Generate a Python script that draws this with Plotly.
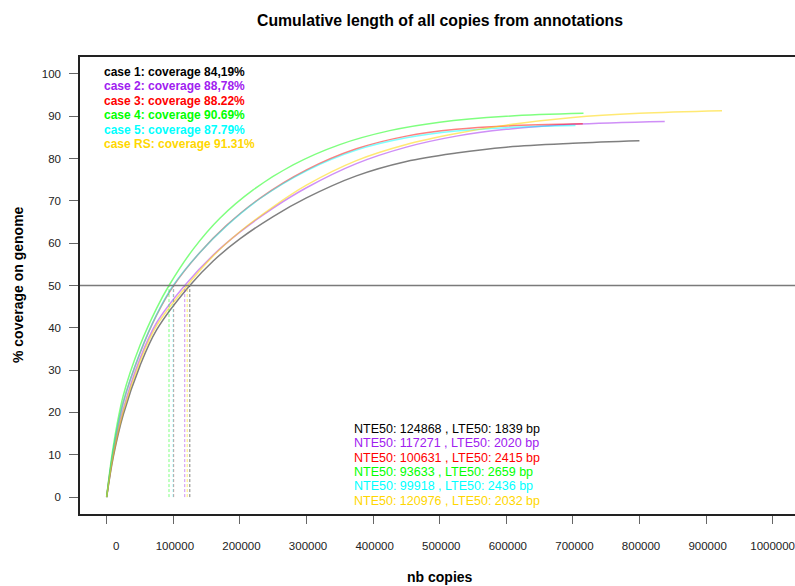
import plotly.graph_objects as go

# ---------------- data ----------------
case_names = ["case 1", "case 2", "case 3", "case 4", "case 5", "case RS"]
coverage_labels = ["84,19%", "88,78%", "88.22%", "90.69%", "87.79%", "91.31%"]
nte50 = [124868, 117271, 100631, 93633, 99918, 120976]
lte50 = [1839, 2020, 2415, 2659, 2436, 2032]
threshold = 50

case1_x = [0, 10000, 25000, 50000, 75000, 124868, 160000, 200000, 250000, 300000, 375000, 450000, 525000, 600000, 700000, 800000]
case1_y = [0, 9.5, 19.5, 31.0, 39.5, 50.0, 55.8, 61.0, 66.3, 70.7, 75.9, 79.3, 81.3, 82.7, 83.6, 84.19]

case2_x = [0, 10000, 25000, 50000, 75000, 117271, 160000, 200000, 250000, 300000, 375000, 450000, 525000, 600000, 700000, 838000]
case2_y = [0, 10.2, 20.8, 32.7, 41.2, 50.0, 57.2, 62.6, 68.3, 73.1, 78.8, 82.7, 85.3, 86.9, 88.1, 88.78]

case3_x = [0, 10000, 25000, 50000, 75000, 100631, 140000, 180000, 230000, 300000, 375000, 450000, 525000, 600000, 715000]
case3_y = [0, 11.0, 22.4, 34.0, 43.0, 50.0, 57.8, 64.2, 70.6, 77.3, 82.3, 85.3, 86.9, 87.7, 88.22]

case4_x = [0, 10000, 25000, 50000, 75000, 93633, 130000, 170000, 220000, 280000, 350000, 425000, 500000, 600000, 716000]
case4_y = [0, 12.0, 24.0, 35.8, 44.6, 50.0, 58.6, 65.9, 72.6, 78.5, 83.3, 86.6, 88.6, 90.0, 90.69]

case5_x = [0, 10000, 25000, 50000, 75000, 99918, 140000, 180000, 230000, 300000, 375000, 450000, 525000, 600000, 704000]
case5_y = [0, 11.0, 22.4, 34.1, 43.1, 50.0, 57.8, 64.1, 70.5, 77.1, 82.0, 84.9, 86.5, 87.3, 87.79]

caseRS_x = [0, 10000, 25000, 50000, 75000, 120976, 160000, 200000, 250000, 300000, 375000, 450000, 525000, 600000, 700000, 800000, 924000]
caseRS_y = [0, 9.9, 20.3, 32.0, 40.5, 50.0, 57.0, 62.7, 68.6, 73.7, 79.5, 83.3, 85.9, 87.9, 89.7, 90.7, 91.31]

x_ticks = [0, 100000, 200000, 300000, 400000, 500000, 600000, 700000, 800000, 900000, 1000000]
y_ticks = [0, 10, 20, 30, 40, 50, 60, 70, 80, 90, 100]

# ---------------- styling ----------------
series_x = [case1_x, case2_x, case3_x, case4_x, case5_x, caseRS_x]
series_y = [case1_y, case2_y, case3_y, case4_y, case5_y, caseRS_y]
solid = ["#000000", "#A020F0", "#FF0000", "#00FF00", "#00FFFF", "#FFD700"]
faded = ["rgba(0,0,0,0.5)", "rgba(160,32,240,0.5)", "rgba(255,0,0,0.5)",
         "rgba(0,255,0,0.5)", "rgba(0,255,255,0.5)", "rgba(255,215,0,0.55)"]

OFF = 0  # body margin removed by post_script
W, H = 795, 586
ML, MR, MT, MB = 80, 0, 57, 72
PW, PH = W - ML - MR, H - MT - MB


def px2paper_x(px):
    return (px - OFF - ML) / PW


def px2paper_y(py):
    return (H - MB - (py - OFF)) / PH


fig = go.Figure()

for xs, ys, col in zip(series_x, series_y, faded):
    fig.add_trace(go.Scatter(x=xs, y=ys, mode="lines",
                             line=dict(color=col, width=1.5, shape="spline", smoothing=1.0),
                             hoverinfo="skip", showlegend=False))

for n, col in zip(nte50, faded):
    fig.add_trace(go.Scatter(x=[n, n], y=[0, threshold], mode="lines",
                             line=dict(color=col, width=1, dash="3px,2px"),
                             hoverinfo="skip", showlegend=False))

fig.add_shape(type="line", xref="paper", x0=0, x1=1, yref="y", y0=threshold, y1=threshold,
              line=dict(color="#7a7a7a", width=1.5), layer="above")

annotations = []
leg_y = [71.7, 86.2, 100.7, 115.2, 129.7, 144.2]
for name, cov, col, py in zip(case_names, coverage_labels, solid, leg_y):
    annotations.append(dict(text=f"<b>{name}: coverage {cov}</b>", x=px2paper_x(102), y=px2paper_y(py),
                            xref="paper", yref="paper", xanchor="left", yanchor="middle",
                            showarrow=False, font=dict(family="Arial", size=12, color=col)))
bot_y = [429.0, 443.3, 457.6, 471.9, 486.2, 500.5]
for n, l, col, py in zip(nte50, lte50, solid, bot_y):
    annotations.append(dict(text=f"NTE50: {n} , LTE50: {l} bp", x=px2paper_x(352), y=px2paper_y(py),
                            xref="paper", yref="paper", xanchor="left", yanchor="middle",
                            showarrow=False, font=dict(family="Arial", size=12.5, color=col)))
annotations.append(dict(text="<b>% coverage on genome</b>", x=px2paper_x(18), y=px2paper_y(285),
                        xref="paper", yref="paper", xanchor="center", yanchor="middle",
                        textangle=-90, showarrow=False, font=dict(family="Arial", size=14, color="#000")))
annotations.append(dict(text="<b>nb copies</b>", x=px2paper_x(440), y=px2paper_y(577),
                        xref="paper", yref="paper", xanchor="center", yanchor="middle",
                        showarrow=False, font=dict(family="Arial", size=14, color="#000")))

x_ticktext = ["\u00a0" * (7 - len(str(v))) + str(v) for v in x_ticks]

fig.update_layout(
    width=W, height=H,
    margin=dict(l=ML, r=MR, t=MT, b=MB, pad=0),
    paper_bgcolor="white", plot_bgcolor="white",
    title=dict(text="<b>Cumulative length of all copies from annotations</b>",
               x=px2paper_x(440), xref="paper", xanchor="center",
               y=1 - (20 - OFF) / H, yref="container", yanchor="middle",
               font=dict(family="Arial", size=15.8, color="#000")),
    annotations=annotations,
    xaxis=dict(range=[-40000, 1033600], tickvals=x_ticks, ticktext=x_ticktext,
               showgrid=False, zeroline=False, showline=True, mirror=True,
               linecolor="#222", linewidth=1.5,
               ticks="outside", ticklen=8, tickcolor="#666", tickwidth=1,
               ticklabelstandoff=12, ticklabeloverflow="allow",
               tickfont=dict(family="Arial", size=11.5, color="#222")),
    yaxis=dict(range=[-4, 104], tickvals=y_ticks,
               showgrid=False, zeroline=False, showline=True, mirror=False,
               linecolor="#222", linewidth=1.5,
               ticks="outside", ticklen=9, tickcolor="#666", tickwidth=1,
               ticklabelstandoff=6,
               tickfont=dict(family="Arial", size=11.5, color="#222")),
)

fig.write_html("out.html",
               config={"displayModeBar": False},
               post_script="document.body.style.margin='0';document.body.style.overflow='hidden';")
